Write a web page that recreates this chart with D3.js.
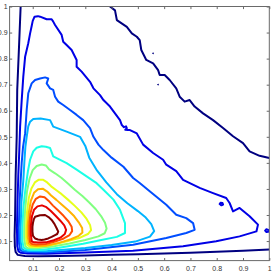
<!DOCTYPE html>
<html><head><meta charset="utf-8">
<script src="https://cdn.jsdelivr.net/npm/d3@7"></script>
<style>html,body{margin:0;padding:0;background:#fff;overflow:hidden}</style>
</head><body><svg id="c" width="273" height="273"></svg>
<script>
const xTicks = [0.1,0.2,0.3,0.4,0.5,0.6,0.7,0.8,0.9,1];
const xTickLabels = ["0.1","0.2","0.3","0.4","0.5","0.6","0.7","0.8","0.9","1"];
const yTicks = [0.1,0.2,0.3,0.4,0.5,0.6,0.7,0.8,0.9,1];
const yTickLabels = ["0.1","0.2","0.3","0.4","0.5","0.6","0.7","0.8","0.9","1"];
const xDomain = [0.012, 1];
const yDomain = [0.025, 1];
const levelColors = ["#000080","#0000E6","#004DFF","#00B3FF","#1AFFE6","#80FF80","#E6FF1A","#FFB300","#FF4D00","#E60000","#800000"];

const level1Main = [[0.054,1.0],[0.048,0.85],[0.041,0.68],[0.039,0.5],[0.035,0.35],[0.033,0.2],[0.031,0.12],[0.032,0.08],[0.035,0.058],[0.043,0.047],[0.07,0.043],[0.12,0.042],[0.2,0.043],[0.3,0.045],[0.4,0.047],[0.5,0.049],[0.6,0.052],[0.7,0.055],[0.8,0.059],[0.9,0.063],[1.0,0.068]];
const level1Upper = [[0.394,1.0],[0.413,0.985],[0.420,0.948],[0.458,0.922],[0.477,0.897],[0.496,0.884],[0.507,0.871],[0.513,0.833],[0.532,0.795],[0.558,0.782],[0.577,0.756],[0.583,0.737],[0.602,0.737],[0.621,0.718],[0.646,0.686],[0.659,0.654],[0.678,0.635],[0.697,0.641],[0.716,0.616],[0.748,0.590],[0.786,0.564],[0.824,0.534],[0.862,0.502],[0.900,0.476],[0.925,0.444],[0.963,0.427],[1.0,0.419]];
const level1Dot1 = [[0.557,0.821],[0.559,0.822],[0.559,0.820]];
const level1Dot2 = [[0.576,0.701],[0.578,0.702],[0.578,0.700]];
const level2 = [[0.046,0.060],[0.041,0.08],[0.040,0.15],[0.042,0.25],[0.045,0.35],[0.049,0.45],[0.052,0.54],[0.058,0.64],[0.064,0.73],[0.071,0.807],[0.083,0.859],[0.090,0.897],[0.096,0.925],[0.100,0.945],[0.107,0.961],[0.12,0.963],[0.128,0.961],[0.153,0.951],[0.172,0.951],[0.178,0.942],[0.185,0.929],[0.210,0.891],[0.216,0.865],[0.229,0.852],[0.248,0.833],[0.267,0.795],[0.267,0.769],[0.286,0.750],[0.318,0.711],[0.331,0.686],[0.356,0.660],[0.369,0.641],[0.394,0.616],[0.413,0.590],[0.432,0.564],[0.439,0.545],[0.447,0.537],[0.455,0.540],[0.458,0.533],[0.452,0.527],[0.462,0.526],[0.470,0.526],[0.496,0.513],[0.520,0.470],[0.558,0.438],[0.596,0.412],[0.608,0.393],[0.646,0.368],[0.672,0.335],[0.735,0.304],[0.786,0.284],[0.836,0.265],[0.849,0.246],[0.862,0.214],[0.887,0.227],[0.925,0.195],[0.957,0.163],[0.951,0.137],[0.887,0.118],[0.798,0.099],[0.672,0.080],[0.481,0.063],[0.3,0.056],[0.15,0.051],[0.08,0.052],[0.055,0.055]];
const level2Island1 = [[0.811,0.242],[0.815,0.247],[0.822,0.246],[0.824,0.240],[0.818,0.237]];
const level2Island2 = [[0.984,0.140],[0.989,0.145],[0.996,0.143],[0.996,0.136],[0.989,0.135]];
const level3 = [[0.052,0.065],[0.048,0.09],[0.047,0.15],[0.050,0.25],[0.054,0.33],[0.058,0.40],[0.063,0.46],[0.071,0.513],[0.077,0.603],[0.083,0.667],[0.096,0.705],[0.109,0.718],[0.128,0.724],[0.147,0.728],[0.159,0.724],[0.153,0.705],[0.166,0.686],[0.178,0.680],[0.185,0.654],[0.197,0.635],[0.216,0.622],[0.242,0.603],[0.267,0.584],[0.292,0.564],[0.318,0.533],[0.331,0.500],[0.35,0.47],[0.369,0.449],[0.40,0.42],[0.445,0.385],[0.482,0.342],[0.507,0.323],[0.545,0.291],[0.608,0.239],[0.646,0.201],[0.684,0.188],[0.710,0.169],[0.716,0.143],[0.684,0.131],[0.608,0.112],[0.482,0.086],[0.3,0.066],[0.15,0.056],[0.08,0.058],[0.06,0.061]];
const level4 = [[0.058,0.07],[0.054,0.1],[0.054,0.15],[0.057,0.25],[0.064,0.33],[0.068,0.40],[0.072,0.46],[0.077,0.50],[0.083,0.54],[0.090,0.558],[0.102,0.568],[0.13,0.570],[0.166,0.564],[0.178,0.539],[0.229,0.520],[0.280,0.500],[0.300,0.465],[0.315,0.42],[0.345,0.37],[0.38,0.325],[0.42,0.28],[0.46,0.245],[0.50,0.215],[0.53,0.19],[0.551,0.165],[0.562,0.138],[0.546,0.117],[0.49,0.098],[0.40,0.085],[0.3,0.073],[0.15,0.061],[0.09,0.062],[0.066,0.065]];
const level5 = [[0.065,0.075],[0.061,0.1],[0.061,0.15],[0.064,0.22],[0.070,0.28],[0.075,0.32],[0.082,0.37],[0.090,0.412],[0.102,0.444],[0.115,0.458],[0.134,0.464],[0.150,0.462],[0.166,0.457],[0.178,0.425],[0.229,0.399],[0.267,0.374],[0.305,0.348],[0.343,0.322],[0.369,0.297],[0.407,0.259],[0.432,0.220],[0.451,0.169],[0.451,0.131],[0.420,0.116],[0.356,0.103],[0.292,0.09],[0.2,0.074],[0.13,0.066],[0.08,0.067]];
const level6 = [[0.072,0.08],[0.068,0.11],[0.068,0.15],[0.071,0.22],[0.078,0.29],[0.088,0.34],[0.100,0.372],[0.115,0.388],[0.134,0.394],[0.150,0.390],[0.162,0.375],[0.185,0.36],[0.21,0.342],[0.235,0.32],[0.26,0.297],[0.29,0.272],[0.315,0.248],[0.34,0.222],[0.36,0.196],[0.375,0.17],[0.381,0.148],[0.374,0.13],[0.35,0.118],[0.3,0.104],[0.24,0.091],[0.17,0.078],[0.11,0.071],[0.08,0.073]];
const level7 = [[0.079,0.085],[0.075,0.11],[0.075,0.15],[0.078,0.21],[0.085,0.265],[0.095,0.302],[0.108,0.325],[0.122,0.335],[0.14,0.335],[0.155,0.325],[0.17,0.31],[0.19,0.295],[0.21,0.28],[0.235,0.258],[0.26,0.235],[0.285,0.21],[0.305,0.185],[0.318,0.162],[0.322,0.142],[0.31,0.127],[0.28,0.113],[0.23,0.099],[0.17,0.085],[0.12,0.077],[0.09,0.078]];
const level8 = [[0.085,0.09],[0.081,0.115],[0.081,0.16],[0.085,0.21],[0.093,0.255],[0.105,0.285],[0.12,0.299],[0.138,0.301],[0.155,0.29],[0.17,0.275],[0.19,0.258],[0.21,0.24],[0.235,0.218],[0.258,0.195],[0.275,0.172],[0.288,0.15],[0.289,0.133],[0.275,0.12],[0.245,0.107],[0.2,0.093],[0.15,0.082],[0.11,0.081],[0.093,0.084]];
const level9 = [[0.09,0.095],[0.087,0.12],[0.087,0.16],[0.091,0.205],[0.1,0.24],[0.112,0.262],[0.128,0.271],[0.145,0.268],[0.16,0.255],[0.177,0.236],[0.197,0.217],[0.218,0.196],[0.236,0.175],[0.248,0.155],[0.25,0.138],[0.24,0.123],[0.218,0.11],[0.185,0.098],[0.15,0.089],[0.115,0.087],[0.097,0.089]];
const level10 = [[0.096,0.10],[0.093,0.125],[0.093,0.16],[0.097,0.195],[0.105,0.22],[0.118,0.233],[0.135,0.237],[0.152,0.23],[0.168,0.216],[0.186,0.198],[0.205,0.178],[0.22,0.16],[0.227,0.143],[0.222,0.127],[0.205,0.113],[0.18,0.103],[0.15,0.095],[0.12,0.094],[0.102,0.096]];
const level11 = [[0.109,0.193],[0.128,0.199],[0.147,0.200],[0.160,0.192],[0.172,0.181],[0.183,0.165],[0.191,0.149],[0.197,0.136],[0.193,0.127],[0.185,0.123],[0.172,0.116],[0.159,0.110],[0.145,0.106],[0.134,0.104],[0.12,0.106],[0.109,0.110],[0.101,0.12],[0.099,0.136],[0.099,0.155],[0.101,0.170],[0.104,0.183]];

const contourPieces = [
  {pts: level1Main, level: 0, closed: false, w: 2},
  {pts: level1Upper, level: 0, closed: false, w: 2},
  {pts: level1Dot1, level: 0, closed: true, w: 1},
  {pts: level1Dot2, level: 0, closed: true, w: 1},
  {pts: level2, level: 1, closed: true, w: 2},
  {pts: level2Island1, level: 1, closed: true, w: 2},
  {pts: level2Island2, level: 1, closed: true, w: 2},
  {pts: level3, level: 2, closed: true, w: 2},
  {pts: level4, level: 3, closed: true, w: 2},
  {pts: level5, level: 4, closed: true, w: 2},
  {pts: level6, level: 5, closed: true, w: 2},
  {pts: level7, level: 6, closed: true, w: 2},
  {pts: level8, level: 7, closed: true, w: 2},
  {pts: level9, level: 8, closed: true, w: 2},
  {pts: level10, level: 9, closed: true, w: 2},
  {pts: level11, level: 10, closed: true, w: 2}
];

const svg = d3.select("#c");
const L = 9.6, R = 269.3, T = 6.5, B = 260.6;
const x = d3.scaleLinear().domain(xDomain).range([L, R]);
const y = d3.scaleLinear().domain(yDomain).range([B, T]);

svg.append("rect").attr("width",273).attr("height",273).attr("fill","#fff");
svg.append("defs").append("clipPath").attr("id","pa")
  .append("rect").attr("x",L).attr("y",T).attr("width",R-L).attr("height",B-T);

const g = svg.append("g").attr("clip-path","url(#pa)");
const lineOpen = d3.line().x(d=>x(d[0])).y(d=>y(d[1])).curve(d3.curveLinear);
const lineClosed = d3.line().x(d=>x(d[0])).y(d=>y(d[1])).curve(d3.curveLinearClosed);
g.selectAll("path.ct").data(contourPieces).join("path")
  .attr("class","ct")
  .attr("d", d => (d.closed ? lineClosed : lineOpen)(d.pts))
  .attr("fill","none")
  .attr("stroke", d => levelColors[d.level])
  .attr("stroke-width", d => d.w)
  .attr("stroke-linejoin","round")
  .attr("stroke-linecap","round");

const axisColor = "#6a6a6a";
const tl = 2.6;
const ax = svg.append("g");
ax.append("rect").attr("x",L).attr("y",T).attr("width",R-L).attr("height",B-T)
  .attr("fill","none").attr("stroke",axisColor).attr("stroke-width",1);
const xAxisB = d3.axisBottom(x).tickValues(xTicks).tickSize(-tl).tickPadding(5)
  .tickFormat((d,i)=>xTickLabels[i]);
const gxb = ax.append("g").attr("transform",`translate(0,${B})`).call(xAxisB);
const xAxisT = d3.axisTop(x).tickValues(xTicks).tickSize(-tl).tickFormat("");
const gxt = ax.append("g").attr("transform",`translate(0,${T})`).call(xAxisT);
const yAxisL = d3.axisLeft(y).tickValues(yTicks).tickSize(-tl).tickPadding(2)
  .tickFormat((d,i)=>yTickLabels[i]);
const gyl = ax.append("g").attr("transform",`translate(${L},0)`).call(yAxisL);
const yAxisR = d3.axisRight(y).tickValues(yTicks).tickSize(-tl).tickFormat("");
const gyr = ax.append("g").attr("transform",`translate(${R},0)`).call(yAxisR);
[gxb,gxt,gyl,gyr].forEach(s=>{
  s.select(".domain").remove();
  s.selectAll(".tick line").attr("stroke",axisColor);
  s.selectAll(".tick text").attr("fill","#333").attr("font-family","'Liberation Sans', Arial, sans-serif").attr("font-size","7px");
});
gxb.selectAll(".tick text").attr("dy","0.71em");
</script>
</body></html>
